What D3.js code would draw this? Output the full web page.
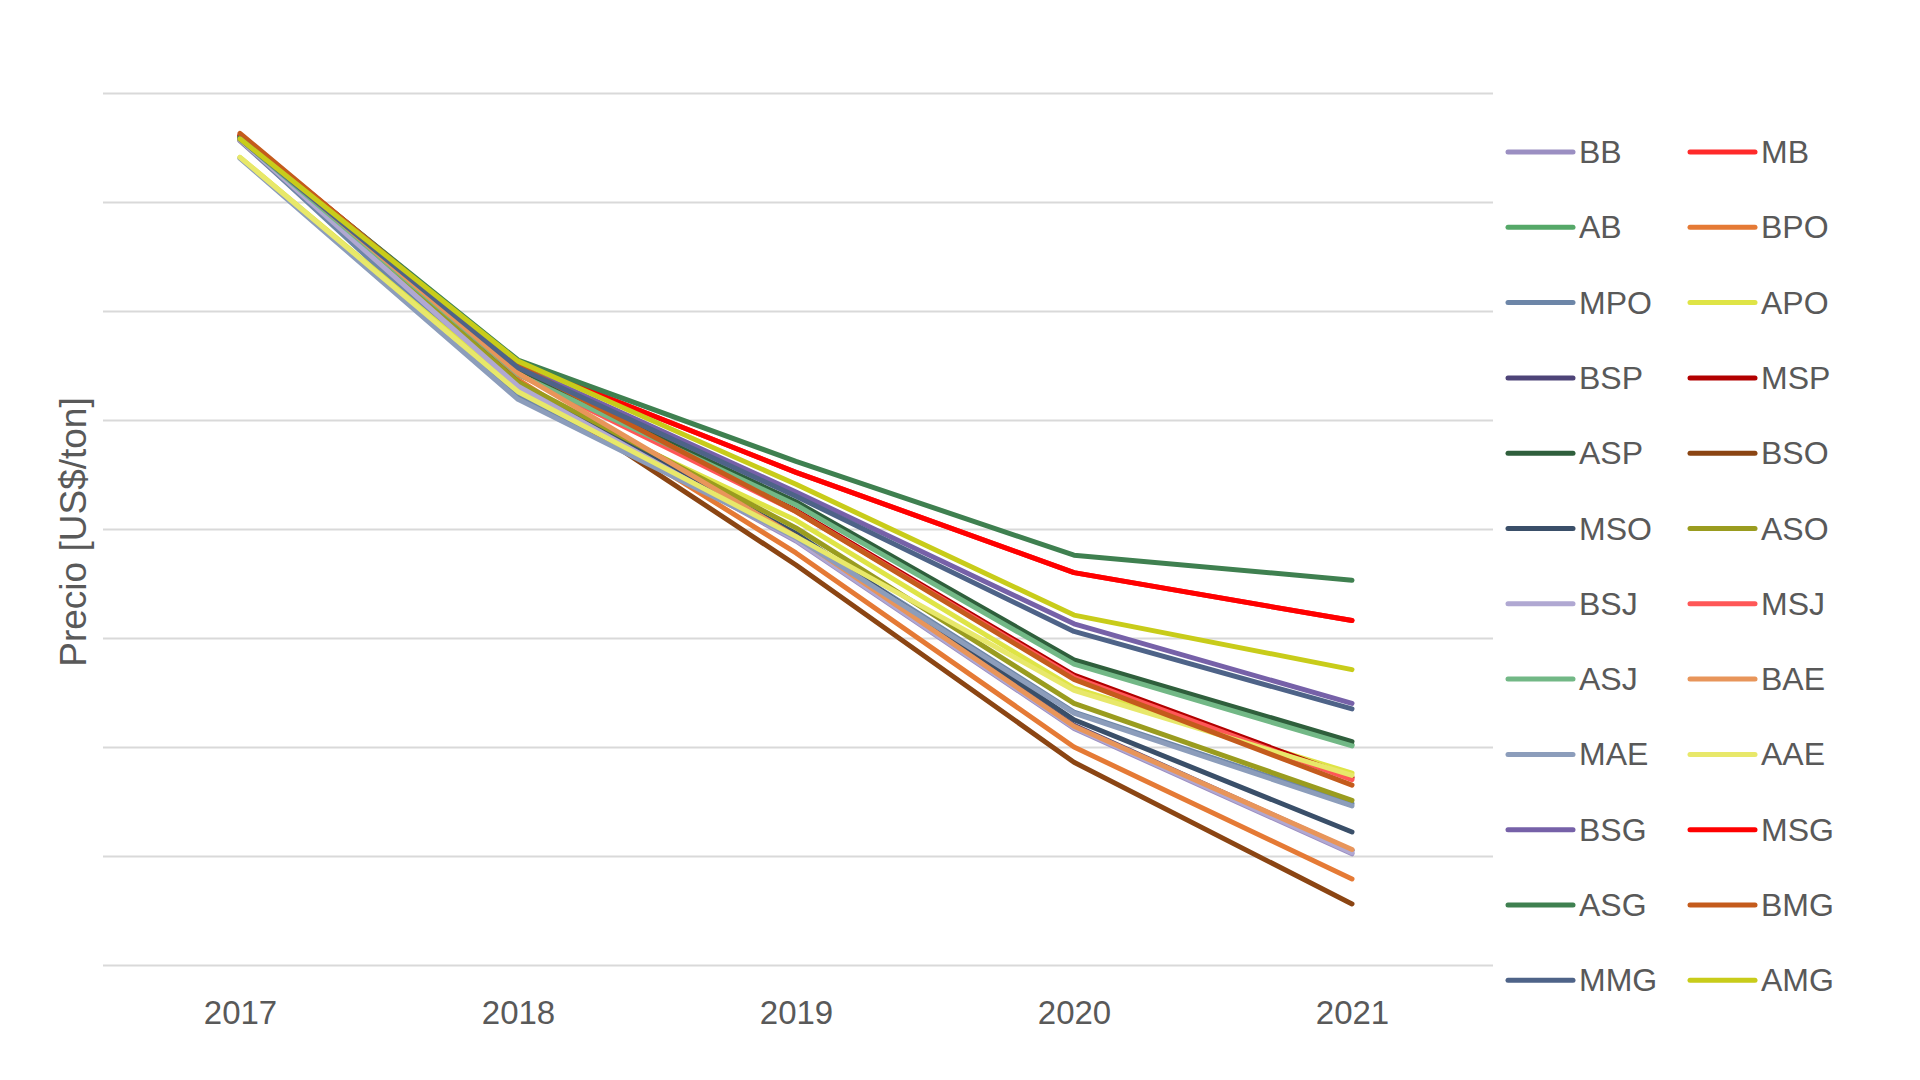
<!DOCTYPE html>
<html>
<head>
<meta charset="utf-8">
<script src="https://cdn.jsdelivr.net/npm/d3@7"></script>
<style>
  html, body { margin: 0; padding: 0; background: #ffffff; }
  svg { display: block; font-family: "Liberation Sans", Arial, sans-serif; }
</style>
</head>
<body>
<svg id="chart" width="1920" height="1080"></svg>
<script>
// ---- Data ----
const years = ["2017", "2018", "2019", "2020", "2021"];
const seriesNames = ["BB","MB","AB","BPO","MPO","APO","BSP","MSP","ASP","BSO","MSO","ASO",
                     "BSJ","MSJ","ASJ","BAE","MAE","AAE","BSG","MSG","ASG","BMG","MMG","AMG"];
const seriesColors = ["#9B8FC2","#FF2A2A","#55A868","#E57A35","#6D86A8","#DFE446",
                      "#4E4478","#B20000","#2F5F3C","#8B4513","#3A4F69","#9A9C1F",
                      "#B0A8D2","#FF5757","#72B886","#E8955A","#8C9DBB","#E8E86A",
                      "#7661A8","#FF0000","#3F8050","#C45B1C","#4E6388","#C8CC1A"];
const BB  = [756, 529, 389, 217, 102];
const MB  = [761, 553, 452, 360, 316];
const AB  = [758, 543, 423, 277, 202];
const BPO = [759, 537, 378, 200, 79];
const MPO = [757, 522, 394, 232, 148];
const APO = [741, 528, 408, 254, 176];
const BSP = [757, 533, 392, 220, 105];
const MSP = [761, 544, 417, 266, 172];
const ASP = [759, 544, 425, 280, 205];
const BSO = [758, 535, 367, 186, 56];
const MSO = [759, 532, 396, 225, 122];
const ASO = [757, 535, 401, 240, 151];
const BSJ = [757, 531, 390, 218, 103];
const MSJ = [760, 542, 416, 264, 170];
const ASJ = [758, 542, 422, 276, 201];
const BAE = [760, 543, 393, 219, 106];
const MAE = [740, 519, 392, 231, 146];
const AAE = [741, 526, 393, 252, 174];
const BSG = [759, 550, 434, 313, 240];
const MSG = [761, 553, 452, 360, 316];
const ASG = [760, 555, 462, 376, 353];
const BMG = [763, 550, 416, 262, 165];
const MMG = [758, 548, 430, 306, 235];
const AMG = [758, 554, 441, 321, 271];
const seriesValues = [BB,MB,AB,BPO,MPO,APO,BSP,MSP,ASP,BSO,MSO,ASO,
                      BSJ,MSJ,ASJ,BAE,MAE,AAE,BSG,MSG,ASG,BMG,MMG,AMG];
const yTicks = [0, 100, 200, 300, 400, 500, 600, 700, 800];
const yTitle = "Precio [US$/ton]";

// ---- Layout ----
const svg = d3.select("#chart");
const plot = { left: 103, right: 1493, top: 93, bottom: 965 };
const textColor = "#595959";

const x = d3.scalePoint().domain(years).range([plot.left - 2, plot.right - 2]).padding(0.5);
const y = d3.scaleLinear().domain([0, 800]).range([plot.bottom, plot.top]);

// Gridlines
const gridAxis = d3.axisLeft(y).tickValues(yTicks).tickSize(-(plot.right - plot.left)).tickFormat("");
const grid = svg.append("g").attr("transform", `translate(${plot.left},0)`).call(gridAxis);
grid.select(".domain").remove();
grid.selectAll(".tick line").attr("stroke", "#d9d9d9").attr("stroke-width", 2);

// X axis labels
const xAxis = d3.axisBottom(x).tickSize(0).tickPadding(36);
const xg = svg.append("g").attr("transform", `translate(0,${plot.bottom})`).call(xAxis);
xg.select(".domain").remove();
xg.selectAll(".tick text")
  .attr("font-size", 33)
  .attr("font-family", "'Liberation Sans', Arial, sans-serif")
  .attr("fill", textColor);

// Y title
svg.append("text")
  .attr("transform", "translate(86,532) rotate(-90)")
  .attr("text-anchor", "middle")
  .attr("font-size", 37)
  .attr("fill", textColor)
  .text(yTitle);

// Lines
const line = d3.line().x((d, i) => x(years[i])).y(d => y(d));
const series = seriesNames.map((n, i) => ({ name: n, color: seriesColors[i], values: seriesValues[i] }));
svg.append("g").selectAll("path").data(series).join("path")
  .attr("d", d => line(d.values))
  .attr("fill", "none")
  .attr("stroke", d => d.color)
  .attr("stroke-width", 5)
  .attr("stroke-linecap", "round")
  .attr("stroke-linejoin", "round");

// Legend
const legendCols = [1508, 1690];
const legendRow0 = 152, legendStep = 75.3, legendLineLen = 65, legendGap = 6;
const lg = svg.append("g").selectAll("g").data(series).join("g")
  .attr("transform", (d, i) => `translate(${legendCols[i % 2]},${legendRow0 + Math.floor(i / 2) * legendStep})`);
lg.append("line")
  .attr("x1", 0).attr("x2", legendLineLen).attr("y1", 0).attr("y2", 0)
  .attr("stroke", d => d.color).attr("stroke-width", 5).attr("stroke-linecap", "round");
lg.append("text")
  .attr("x", legendLineLen + legendGap).attr("y", 11)
  .attr("font-size", 32).attr("fill", textColor)
  .text(d => d.name);
</script>
</body>
</html>
